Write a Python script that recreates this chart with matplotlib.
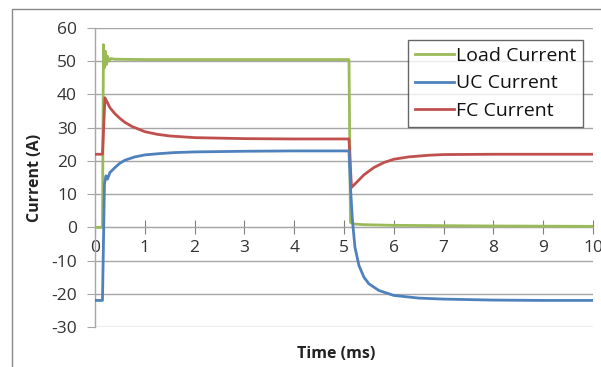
import matplotlib
matplotlib.use("Agg")
import matplotlib.pyplot as plt
from matplotlib.patches import Rectangle

plt.rcParams['font.family'] = ['Open Sans', 'DejaVu Sans']
plt.rcParams['axes.unicode_minus'] = False

# Load current (green)
load_t = [0.0, 0.15, 0.17, 0.19, 0.21, 0.23, 0.25, 0.28, 0.32, 0.40, 1.0, 3.0, 5.1, 5.13, 5.2, 5.4, 6.0, 8.0, 10.0]
load_i = [0.0, 0.0, 55.0, 48.0, 53.0, 49.0, 51.5, 50.0, 50.8, 50.6, 50.5, 50.5, 50.5, 1.5, 1.0, 0.8, 0.6, 0.4, 0.3]

# UC current (blue)
uc_t = [0.0, 0.15, 0.19, 0.22, 0.25, 0.3, 0.4, 0.5, 0.6, 0.8, 1.0, 1.3, 1.6, 2.0, 3.0, 4.0, 5.1, 5.13, 5.17, 5.22, 5.3, 5.4, 5.5, 5.7, 6.0, 6.5, 7.0, 8.0, 9.0, 10.0]
uc_i = [-22.0, -22.0, 13.0, 15.5, 14.5, 16.5, 18.0, 19.3, 20.2, 21.2, 21.8, 22.2, 22.5, 22.7, 22.9, 23.0, 23.0, 12.0, 2.0, -6.0, -11.5, -15.0, -17.0, -19.0, -20.5, -21.3, -21.6, -21.9, -22.0, -22.0]

# FC current (red)
fc_t = [0.0, 0.15, 0.2, 0.25, 0.3, 0.4, 0.5, 0.6, 0.75, 1.0, 1.25, 1.5, 2.0, 3.0, 4.0, 5.1, 5.15, 5.25, 5.4, 5.6, 5.8, 6.0, 6.3, 6.7, 7.0, 8.0, 10.0]
fc_i = [22.0, 22.0, 39.0, 37.5, 36.0, 34.2, 32.8, 31.6, 30.3, 28.8, 28.0, 27.5, 27.0, 26.7, 26.6, 26.6, 12.0, 13.5, 15.8, 18.0, 19.5, 20.5, 21.2, 21.7, 21.9, 22.0, 22.0]

series_labels = ['Load Current', 'UC Current', 'FC Current']
colors = ['#9BBB59', '#4F81BD', '#C0504D']

x_ticks = list(range(0, 11))
y_ticks = list(range(-30, 61, 10))

fig = plt.figure(figsize=(6.01, 3.67), dpi=100)
fig.patches.append(Rectangle((12/601, -0.1), 1.2, 1 - 9/367 + 0.1, transform=fig.transFigure,
                             fill=False, edgecolor='#888888', linewidth=1.0))
ax = fig.add_axes([95/601, 1 - 327/367, (593 - 95)/601, (327 - 28)/367])

lw = 2.0
ax.plot(load_t, load_i, color=colors[0], lw=lw, label=series_labels[0], zorder=3)
ax.plot(uc_t, uc_i, color=colors[1], lw=lw, label=series_labels[1], zorder=4)
ax.plot(fc_t, fc_i, color=colors[2], lw=lw, label=series_labels[2], zorder=3)

ax.set_xlim(0, 10)
ax.set_ylim(-30, 60)
ax.set_yticks(y_ticks)
ax.set_xticks(x_ticks)

for y in y_ticks:
    ax.axhline(y, color='#A6A6A6', lw=1.0, zorder=1)

ax.spines['top'].set_visible(False)
ax.spines['right'].set_visible(False)
ax.spines['bottom'].set_position(('data', 0))
ax.spines['bottom'].set_color('#A6A6A6')
ax.spines['left'].set_color('#A6A6A6')
ax.spines['left'].set_linewidth(1.0)

ax.tick_params(axis='x', direction='inout', length=10, color='#808080', labelsize=12.5,
               labelcolor='#333333', pad=4)
ax.tick_params(axis='y', direction='out', length=6, color='#A6A6A6', labelsize=12.5,
               labelcolor='#333333', pad=7)

ax.set_xlabel('Time (ms)', fontsize=11.5, fontweight='bold', color='#222222')
ax.xaxis.set_label_coords(0.485, -0.062)
ax.set_ylabel('Current (A)', fontsize=11.5, fontweight='bold', color='#222222')
ax.yaxis.set_label_coords(-0.104, 0.5)

leg = ax.legend(loc='upper right', bbox_to_anchor=(0.98, 0.96), fontsize=14,
                frameon=True, fancybox=False, handlelength=2.0, handletextpad=0.1,
                borderpad=0.35, labelspacing=0.5, borderaxespad=0)
leg.get_frame().set_edgecolor('#404040')
leg.get_frame().set_linewidth(1.0)
for t in leg.get_texts():
    t.set_color('#111111')

fig.savefig('out.png', dpi=100)
